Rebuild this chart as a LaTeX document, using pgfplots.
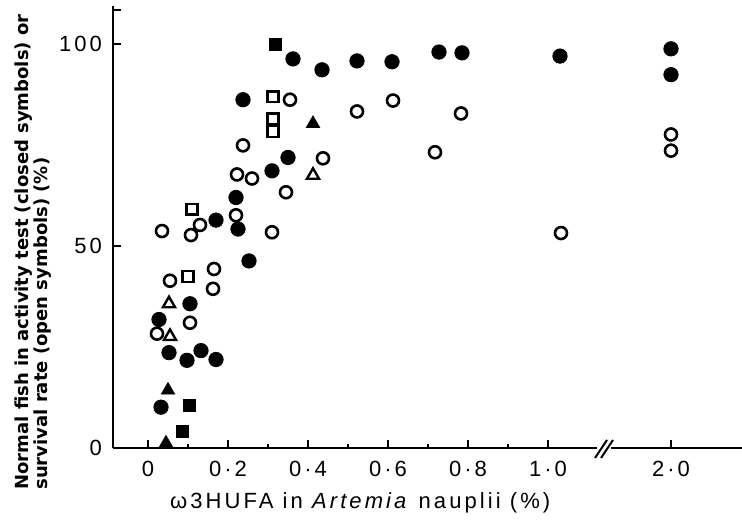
\documentclass[border=0pt]{standalone}
\usepackage{pgfplots}
\pgfplotsset{compat=1.18}
\usepackage{fontspec}
\setmainfont{Liberation Sans}[LetterSpace=14]
\newfontfamily\ylabfont{DejaVu Sans}

\begin{document}
\begin{tikzpicture}
\begin{axis}[
    scale only axis,
    width=314.5pt, height=221pt,
    xmin=-0.0875, xmax=1.485,
    ymin=0, ymax=109.4,
    clip=false,
    axis lines=left,
    axis line style={-, line width=1.2pt},
    tick align=inside,
    major tick length=4pt,
    minor tick length=2pt,
    tick style={line width=1pt, black},
    % 2.0 is drawn past the axis break, at 1.3075
    xtick={0,0.2,0.4,0.6,0.8,1.0,1.3075},
    xticklabels={0,0·2,0·4,0·6,0·8,1·0,2·0},
    minor xtick={0.1,0.3,0.5,0.7,0.9},
    ytick={0,50,100},
    yticklabels={0,50,100},
    extra y ticks={108.5},
    extra y tick labels={},
    tick label style={font=\fontsize{11}{11}\selectfont},
    xticklabel style={yshift=-3pt},
    yticklabel style={xshift=-2pt},
    xlabel={ω3HUFA in \textit{Artemia} nauplii (\%)},
    xlabel style={font=\fontsize{11}{12}\selectfont, at={(axis description cs:0.393,-0.124)}, anchor=center},
    ylabel={Normal fish in activity test (closed symbols) or\\survival rate (open symbols) (\%)},
    ylabel style={font=\ylabfont\bfseries\fontsize{9}{8}\selectfont,
        align=left, inner sep=0pt,
        at={(axis description cs:-0.157,-0.095)}, anchor=north west},
    every axis plot/.append style={only marks, black},
]
% closed circles (activity test)
\addplot[mark=*, mark size=3.6pt] coordinates {
(0.2375,86.2) (0.3625,96.3) (0.435,93.6) (0.5225,95.8) (0.61,95.6)
(0.7275,98.0) (0.785,97.8) (1.03,97.0) (1.3075,98.8) (1.3075,92.4)
(0.35,71.9) (0.31,68.6) (0.22,62.0) (0.17,56.4) (0.225,54.2) (0.2525,46.3)
(0.105,35.7) (0.0275,31.8) (0.0525,23.6) (0.0975,21.7) (0.1325,24.1)
(0.17,21.9) (0.0325,10.1)
};
% closed squares
\addplot[mark=square*, mark size=3pt] coordinates {
(0.3175,99.8) (0.1025,10.6) (0.085,4.2)
};
% closed triangles
\addplot[mark=triangle*, mark size=3.8pt] coordinates {
(0.05,14.3) (0.045,1.2) (0.4125,80.3)
};
% open circles (survival rate)
\addplot[mark=o, mark size=3pt, mark options={line width=1.3pt}] coordinates {
(0.2375,74.9) (0.355,86.2) (0.5225,83.3) (0.4375,71.7) (0.2225,67.7)
(0.26,66.7) (0.22,57.6) (0.13,55.2) (0.1075,52.7) (0.035,53.7)
(0.345,63.3) (0.31,53.4) (0.165,44.3) (0.1625,39.4) (0.055,41.4)
(0.105,31.0) (0.0225,28.3) (0.6125,86.0) (0.7825,82.8) (0.7175,73.2)
(1.0325,53.2) (1.3075,77.6) (1.3075,73.6)
};
% open squares
\addplot[mark=square, mark size=2.7pt, mark options={line width=1.2pt}] coordinates {
(0.3125,86.9) (0.3125,81.5) (0.3125,78.3) (0.11,59.1) (0.1,42.4)
};
% open triangles
\addplot[mark=triangle, mark size=3.5pt, mark options={line width=1.2pt}] coordinates {
(0.4125,67.5) (0.0525,35.7) (0.055,27.6)
};
% axis break
\fill[white] ([xshift=-4pt,yshift=-3pt]axis cs:1.1425,0) rectangle ([xshift=3pt,yshift=3pt]axis cs:1.1425,0);
\draw[line width=1pt] ([xshift=-5pt,yshift=-5pt]axis cs:1.1425,0) -- ++(6pt,9pt);
\draw[line width=1pt] ([xshift=-2pt,yshift=-5pt]axis cs:1.1425,0) -- ++(6pt,9pt);
\coordinate (ll) at (rel axis cs:0,0);
\coordinate (ur) at (rel axis cs:1,1);
\end{axis}
\pgfresetboundingbox
\path ([shift={(-56.5pt,-39.5pt)}]ll) rectangle ([shift={(0pt,3pt)}]ur);
\end{tikzpicture}
\end{document}
